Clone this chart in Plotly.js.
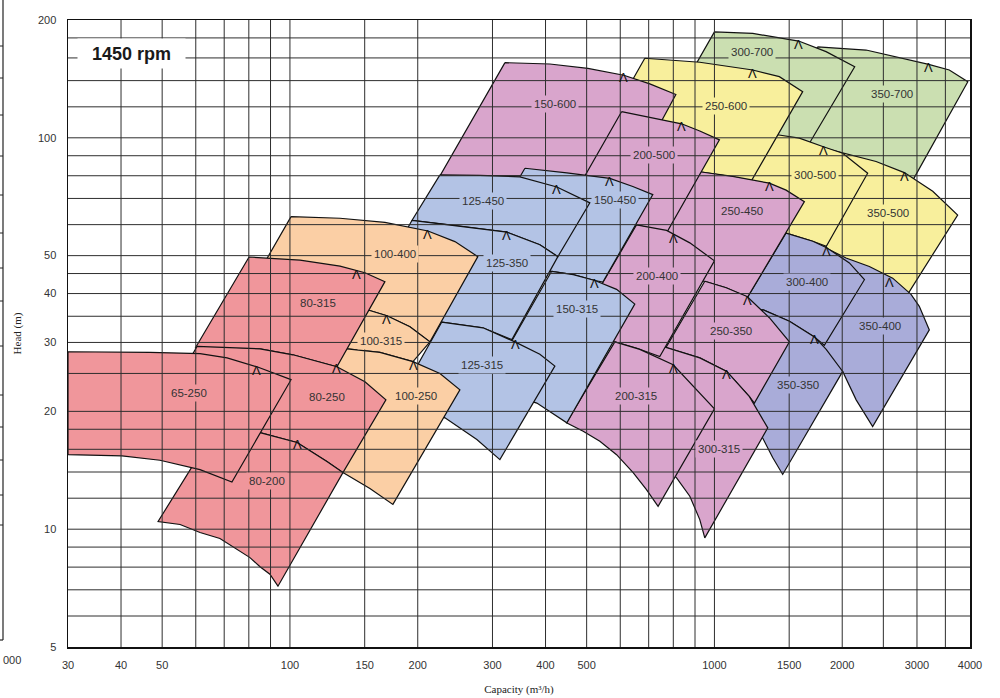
<!DOCTYPE html>
<html><head><meta charset="utf-8">
<script src="https://cdn.plot.ly/plotly-3.0.1.min.js"></script>
<style>html,body{margin:0;padding:0;background:#fff}#chart{width:1000px;height:698px}</style>
</head><body><div id="chart"></div>
<script>
// ---------------- DATA (capacity m3/h, head m) ----------------
const regionNames = ['350-700','300-700','350-500','300-500','250-600','350-400','300-400','350-350','250-450','250-350','300-315','150-600','200-500','200-400','200-315','150-450','150-315','125-450','125-350','125-315','100-400','100-315','100-250','80-315','80-250','80-200','65-250'];

// upper (max impeller) curve and lower (min impeller) curve, each left -> right
const top_350_700 = [[1751,170.7],[2276,167.6],[3196,154.0],[3575,149.0],[3953,139.1]];
const bot_350_700 = [[1422,124.9],[1638,94.2],[2000,90.3],[2910,76.7]];
const top_300_700 = [[1000,186.5],[1231,184.8],[1579,176.7],[1832,166.0],[2140,151.9]];
const bot_300_700 = [[874.9,144.7],[1276,93.1],[1638,93.1]];
const top_350_500 = [[1767,94.8],[2005,91.6],[2403,87.0],[2801,81.5],[3268,73.0],[3741,63.5]];
const bot_350_500 = [[1835,51.0],[2042,47.4],[2446,42.2],[2801,38.6]];
const top_300_500 = [[1406.7,101.8],[1585,99.8],[1805.8,94.9],[2005,91.3],[2296,81.2]];
const bot_300_500 = [[1196,76.7],[1475.2,57.1],[1704.7,54.4],[1835,52.8]];
const top_250_600 = [[685.4,159.7],[923.6,156.0],[1231,149.0],[1422,143.3],[1614,131.2]];
const bot_250_600 = [[567,111.1],[667.1,87.8],[923.6,81.8],[1104.3,79.5],[1222,77.6]];
const top_350_400 = [[1767,53.3],[2042,49.3],[2317,46.9],[2630,43.8],[2905,39.8],[3038,37.1],[3208,32.3]];
const bot_350_400 = [[1354.5,32.3],[1585,30.5],[2005,25.3],[2157,21.4],[2359,18.3]];
const top_300_400 = [[1475.2,57.1],[1704.7,54.4],[1838.5,52.4],[2079,47.9],[2256,43.4]];
const bot_300_400 = [[1138.8,35.8],[1299.2,36.4],[1502,34.0],[1720,31.0],[1815,29.5]];
const top_350_350 = [[1299.2,36.4],[1502,34.0],[1720,31.0],[1833.6,28.8],[2005,25.3]];
const bot_350_350 = [[985.4,21.4],[1145,19.6],[1299.2,17.1],[1371.4,15.24],[1448,13.8]];
const top_250_450 = [[874.9,83.3],[923.6,81.9],[1104.3,79.7],[1347,76.6],[1475.2,73.5],[1629,68.7]];
const bot_250_450 = [[618.4,43.0],[949,43.0],[1065.8,41.4],[1196,39.1]];
const top_250_350 = [[949,43.0],[1065.8,41.4],[1193.6,39.3],[1347,34.7],[1502,30.1]];
const bot_250_350 = [[768.4,29.1],[923.6,27.4],[1069,25.3],[1209,21.8],[1242,21.0]];
const top_300_315 = [[704.3,29.6],[772.6,29.1],[923.6,27.4],[1069,25.3],[1209,21.8],[1335.5,18.15]];
const bot_300_315 = [[667.1,16.94],[815.1,13.5],[874.9,12.14],[923.6,10.58],[949.0,9.5]];
const top_150_600 = [[321.0,155.6],[409.5,154.4],[503.3,150.4],[611.6,144.5],[704.3,137.3],[811.1,129.0]];
const bot_150_600 = [[225.6,79.9],[357.7,79.9],[638.8,79.9]];
const top_200_500 = [[604.2,116.6],[717.1,112.2],[836.6,108.6],[923.6,104.1],[1027.5,98.8]];
const bot_200_500 = [[425.4,59.9],[656.5,59.9],[771.4,57.2]];
const top_200_400 = [[655.1,59.9],[771.4,58.0],[874.9,53.9],[1000,48.5]];
const bot_200_400 = [[453.9,30.3],[582.6,30.1],[656.5,29.0],[743.5,27.6]];
const top_200_315 = [[582.6,30.1],[667.1,28.8],[799.5,26.3],[890.9,23.2],[1000,20.3]];
const bot_200_315 = [[448.1,18.7],[490.7,17.8],[537.1,16.77],[588.1,15.5],[643.4,13.95],[691.7,12.62],[736.6,11.44]];
const top_150_450 = [[357.7,83.6],[449.1,81.4],[567.0,78.8],[642.2,75.1],[715.8,71.6]];
const bot_150_450 = [[259.7,46.0],[413.4,45.6],[464.9,44.7],[522.7,43.2],[546.0,42.8]];
const top_150_315 = [[413.4,45.6],[464.9,44.7],[522.7,43.2],[588.1,41.0],[649.2,37.6]];
const bot_150_315 = [[286.3,22.7],[338.8,21.9],[381.6,21.0],[449.1,18.7]];
const top_125_450 = [[225.6,80.4],[280.2,80.2],[348.1,79.5],[425.4,74.9],[508.7,68.2]];
const bot_125_450 = [[193.8,61.5],[238.1,59.9],[324.4,57.4],[387.9,53.3],[427.7,49.7]];
const top_125_350 = [[193.8,61.5],[238.1,59.9],[324.4,57.4],[387.9,53.3],[427.7,49.7]];
const bot_125_350 = [[141.6,33.9],[227.7,33.8],[284.8,32.7],[333.3,30.5]];
const top_125_315 = [[227.7,33.8],[284.8,32.7],[338.8,30.1],[387.9,28.0],[420.8,26.1]];
const bot_125_315 = [[179.6,21.4],[231.8,19.25],[275.6,16.94],[312.3,15.06]];
const top_100_400 = [[100.6,62.9],[131.2,62.3],[167.4,60.8],[211.4,57.8],[244.7,54.3],[277.1,49.7]];
const bot_100_400 = [[78.4,39.3],[105.6,38.6],[138.5,37.5],[169.2,35.1],[191.7,32.9],[213.7,30.1]];
const top_100_315 = [[78.4,39.3],[105.6,38.6],[138.5,37.5],[169.2,35.1],[191.7,32.9],[213.7,30.1]];
const bot_100_315 = [[67.7,29.6],[100,29.6],[136.3,28.9],[162.9,28.3],[194.9,26.8]];
const top_100_250 = [[100,29.6],[136.3,28.9],[162.9,28.3],[194.9,26.8],[225.6,25.0],[251.4,22.7]];
const bot_100_250 = [[74.2,18.0],[85.0,17.65],[103.9,16.65],[122.2,14.9],[133.3,13.95],[154.3,12.7],[174.8,11.57]];
const top_80_315 = [[80.1,49.6],[105.6,48.7],[131.2,47.0],[150.2,45.2],[167.4,42.9]];
const bot_80_315 = [[59.8,29.0],[85.0,28.9],[101.6,27.9],[129.0,26.0]];
const top_80_250 = [[60.4,29.3],[85.0,28.9],[101.6,27.9],[129.0,26.0],[150.2,23.8],[168.3,21.4]];
const bot_80_250 = [[46.8,18.2],[66.9,18.1],[85.0,17.65],[103.9,16.65],[122.2,14.9],[133.3,13.95]];
const top_80_200 = [[66.9,18.1],[85.0,17.65],[103.9,16.65],[122.2,14.9],[133.3,13.95]];
const bot_80_200 = [[48.9,10.46],[55.1,10.28],[61.4,9.81],[68.4,9.47],[75.0,8.87],[80.5,8.46],[85.0,8.02],[89.7,7.67],[93.7,7.15]];
const top_65_250 = [[30,28.4],[46.8,28.3],[61.4,28.1],[71.1,27.4],[83.6,26.0],[100.6,24.1]];
const bot_65_250 = [[30,15.5],[40.2,15.4],[49.4,15.0],[61.4,14.2],[73.0,13.2]];

// label positions and best-efficiency marks, same order as regionNames
const labelX = [2620,1224,2560,1730,1065.8,2460,1653.6,1571,1162,1095,1027.5,420.8,719.9,733.3,655.1,582.6,473.3,284.7,324.4,283.5,176.7,163.8,198.1,116.4,122.0,88.1,57.9];
const labelY = [129.4,165.4,64.1,80.4,120.5,33.1,42.9,23.4,65.0,32.1,16.03,122.0,90.3,44.4,21.9,69.4,36.6,69.1,48.0,26.3,50.6,30.3,21.9,37.9,21.8,13.25,22.3];
const bepX = [3196,1579,2801,1806,1231,2582,1838.5,1720,1347,1193.6,1069,611.6,836.6,802,800,567,523,425,324.4,339,211.4,169.2,195,143.8,128.5,103.9,83.6];
const bepY = [154,176.7,81.5,95,149,43.6,52.4,31.2,76.8,39.3,25.4,145.6,109.2,56.5,26.2,79.0,43.3,75.2,57.4,30.3,57.8,35.1,26.7,45.7,26.3,16.8,26.0];

const xTickVals = [30,40,50,100,150,200,300,400,500,1000,1500,2000,3000,4000];
const xTickText = ['30','40','50','100','150','200','300','400','500','1000','1500','2000','3000','4000'];
const yTickVals = [5,10,20,30,40,50,100,200];
const yTickText = ['5','10','20','30','40','50','100','200'];
const xGrid = [40,50,60,70,80,90,100,150,200,300,400,500,600,700,800,900,1000,1500,2000,2500,3000,3500];
const yGrid = [6,7,8,9,10,12,14,16,18,20,25,30,35,40,45,50,60,70,80,90,100,120,140,160,180];

// ---------------- STYLE ----------------
const tops = [top_350_700,top_300_700,top_350_500,top_300_500,top_250_600,top_350_400,top_300_400,top_350_350,top_250_450,top_250_350,top_300_315,top_150_600,top_200_500,top_200_400,top_200_315,top_150_450,top_150_315,top_125_450,top_125_350,top_125_315,top_100_400,top_100_315,top_100_250,top_80_315,top_80_250,top_80_200,top_65_250];
const bots = [bot_350_700,bot_300_700,bot_350_500,bot_300_500,bot_250_600,bot_350_400,bot_300_400,bot_350_350,bot_250_450,bot_250_350,bot_300_315,bot_150_600,bot_200_500,bot_200_400,bot_200_315,bot_150_450,bot_150_315,bot_125_450,bot_125_350,bot_125_315,bot_100_400,bot_100_315,bot_100_250,bot_80_315,bot_80_250,bot_80_200,bot_65_250];
const family = ['green','green','yellow','yellow','yellow','violet','violet','violet','pink','pink','pink','pink','pink','pink','pink','blue','blue','blue','blue','blue','orange','orange','orange','red','red','red','red'];
const familyColor = {green:'#cbdfb1', yellow:'#f8ef9c', violet:'#a9acd9', pink:'#d9a5cc', blue:'#b3c3e5', orange:'#fbcfa5', red:'#f0969b'};

const X0 = 30, X1 = 4000, Y0 = 5, Y1 = 200;
const traces = [];
regionNames.forEach((nm, i) => {
  const t = tops[i], b = bots[i].slice().reverse();
  const xs = t.map(p => p[0]).concat(b.map(p => p[0]), [t[0][0]]);
  const ys = t.map(p => p[1]).concat(b.map(p => p[1]), [t[0][1]]);
  traces.push({type:'scatter', mode:'lines', x:xs, y:ys, fill:'toself',
    fillcolor: familyColor[family[i]], line:{color:'#111', width:1.2},
    hoverinfo:'skip', showlegend:false, name:nm});
});
// grid drawn over the fills
const gx = [], gy = [];
xGrid.forEach(v => { gx.push(v, v, null); gy.push(Y0, Y1, null); });
yGrid.forEach(v => { gx.push(X0, X1, null); gy.push(v, v, null); });
traces.push({type:'scatter', mode:'lines', x:gx, y:gy, line:{color:'#2e2e2e', width:1},
  hoverinfo:'skip', showlegend:false});

const labelFont = {family:'Liberation Sans, Arial, sans-serif', size:11.5, color:'#333'};
const annotations = regionNames.map((nm, i) => ({
  x: Math.log10(labelX[i]), y: Math.log10(labelY[i]), xref:'x', yref:'y',
  text: nm, showarrow:false, bgcolor: familyColor[family[i]], borderpad:2, font: labelFont
}));
// best-efficiency carets hanging from the max-impeller curve
bepX.forEach((v, i) => annotations.push({
  x: Math.log10(v), y: Math.log10(bepY[i]), xref:'x', yref:'y', text:'Λ', showarrow:false,
  xanchor:'center', yanchor:'top', borderpad:0, borderwidth:0, yshift:4,
  font:{family:'Liberation Sans, Arial, sans-serif', size:13, color:'#111'}
}));
// decoration helpers (pixel -> paper)
const L = 68, R = 970, T = 20, B = 647;
const px = p => (p - L) / (R - L), py = p => 1 - (p - T) / (B - T);
annotations.push({xref:'paper', yref:'paper', x:px(131.5), y:py(53.5), xanchor:'center', yanchor:'middle',
  text:'<b>1450 rpm</b>', showarrow:false, bgcolor:'#ffffff', width:99, height:21, borderpad:4,
  font:{family:'Liberation Sans, Arial, sans-serif', size:18, color:'#1a1a1a'}});
annotations.push({xref:'paper', yref:'paper', x:px(1), y:py(660), xanchor:'left', yanchor:'middle',
  text:'000', showarrow:false, font:{family:'Liberation Sans, Arial, sans-serif', size:11, color:'#333'}});

const shapes = [{type:'line', xref:'paper', yref:'paper', x0:px(3), x1:px(3), y0:py(0), y1:py(640), line:{color:'#222', width:1.2}},
                {type:'line', xref:'paper', yref:'paper', x0:px(0), x1:px(3), y0:py(640), y1:py(640), line:{color:'#222', width:1.2}}];
[46,78,115,156,195,233,268,301,346,395,427,460,495,525].forEach(s => shapes.push(
  {type:'line', xref:'paper', yref:'paper', x0:px(0), x1:px(3), y0:py(s), y1:py(s), line:{color:'#222', width:1}}));

const tickFont = {family:'Liberation Sans, Arial, sans-serif', size:11, color:'#333'};
const layout = {
  width:1000, height:698, margin:{l:68, r:30, t:20, b:51},
  paper_bgcolor:'#fff', plot_bgcolor:'#fff', showlegend:false,
  xaxis:{type:'log', range:[Math.log10(X0), Math.log10(X1)], tickmode:'array', tickvals:xTickVals, ticktext:xTickText,
    showgrid:false, zeroline:false, ticks:'', showline:true, mirror:true, linecolor:'#111', linewidth:1.5,
    tickfont:tickFont, ticklabelstandoff:7,
    title:{text:'Capacity (m³/h)', font:{family:'Liberation Serif, Times New Roman, serif', size:11, color:'#222'}, standoff:15}},
  yaxis:{type:'log', range:[Math.log10(Y0), Math.log10(Y1)], tickmode:'array', tickvals:yTickVals, ticktext:yTickText,
    showgrid:false, zeroline:false, ticks:'', showline:true, mirror:true, linecolor:'#111', linewidth:1.5,
    tickfont:tickFont, ticklabelstandoff:8,
    title:{text:'Head (m)', font:{family:'Liberation Serif, Times New Roman, serif', size:11, color:'#222'}, standoff:14}},
  annotations: annotations, shapes: shapes
};
Plotly.newPlot('chart', traces, layout, {displayModeBar:false, staticPlot:true});
</script></body></html>
